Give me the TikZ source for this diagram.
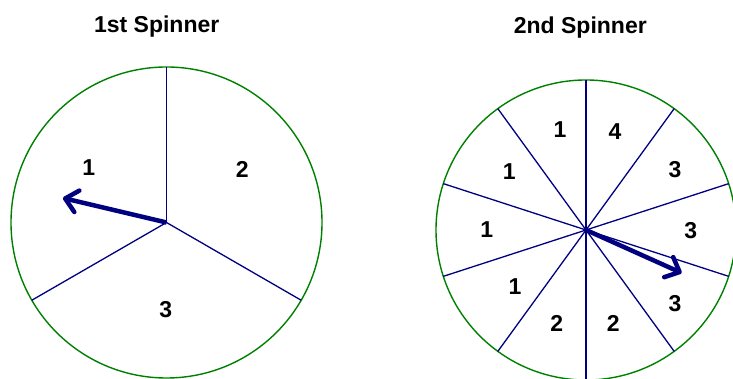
\documentclass[tikz,border=0pt]{standalone}
\usepackage{fontspec}
\setmainfont{Liberation Sans}
\usetikzlibrary{arrows.meta, calc}
\definecolor{spingreen}{RGB}{0,128,0}
\definecolor{spinnavy}{RGB}{0,0,128}
\tikzset{
  wheel/.style={circle, draw=spingreen, line width=1.4pt,
    inner sep=0pt, outer sep=0pt},
  spoke/.style={draw=spinnavy, line width=1.3pt},
  pointer/.style={-{Straight Barb[length=12pt, width=22pt, line width=4.5pt, round]},
    line width=4.5pt, color=spinnavy},
  num/.style={font=\bfseries\fontsize{23}{23}\selectfont, inner sep=0pt},
  title/.style={font=\bfseries\fontsize{23}{23}\selectfont,
    inner sep=0pt, anchor=base}
}

\begin{document}
\begin{tikzpicture}[x=1pt, y=1pt]
  \useasboundingbox (0,0) rectangle (733,379);

  % Titles
  \node[title] (titleA) at (156.7,346.7) {1st Spinner};
  \node[title] (titleB) at (580.3,345.7) {2nd Spinner};

  % First spinner
  \node[wheel, minimum size=311pt] (spinA) at (166.5,156.5) {};
  \foreach \a in {90,210,330}
    \draw[spoke] (spinA.center) -- (spinA.\a);
  \coordinate (tipA) at ($(spinA.center)+(166.7:106.4)$);
  \draw[pointer] (spinA.center) -- (tipA);
  \node[num] (a1) at (88.7,211) {1};
  \node[num] (a2) at (242.3,209.7) {2};
  \node[num] (a3) at (165.7,69) {3};

  % Second spinner
  \node[wheel, minimum size=300pt] (spinB) at (586,149) {};
  \foreach \a in {18,54,...,342}
    \draw[spoke] (spinB.center) -- (spinB.\a);
  \coordinate (tipB) at ($(spinB.center)+(-24.2:104.9)$);
  \draw[pointer] (spinB.center) -- (tipB);
  \node[num] (b1) at (560,249) {1};
  \node[num] (b2) at (615,247.3) {4};
  \node[num] (b3) at (675,209.7) {3};
  \node[num] (b4) at (690.7,148.3) {3};
  \node[num] (b5) at (675,75.7) {3};
  \node[num] (b6) at (613.3,55.7) {2};
  \node[num] (b7) at (556.7,55.7) {2};
  \node[num] (b8) at (515,92.3) {1};
  \node[num] (b9) at (486.7,149.7) {1};
  \node[num] (b10) at (509.3,207.3) {1};
\end{tikzpicture}
\end{document}
